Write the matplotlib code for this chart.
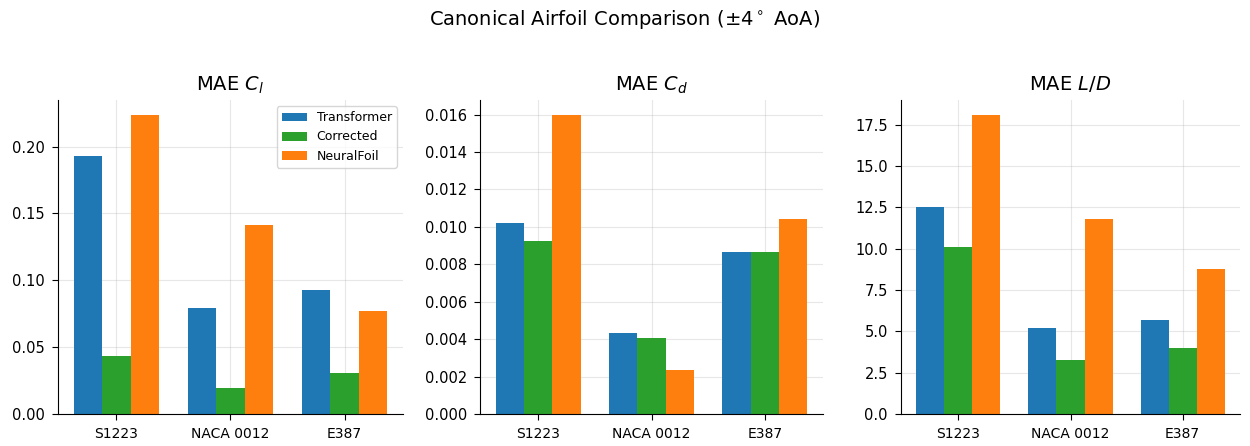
import numpy as np
import matplotlib
matplotlib.use("Agg")
import matplotlib.pyplot as plt

airfoils = ["S1223", "NACA 0012", "E387"]
methods = ["Transformer", "Corrected", "NeuralFoil"]
colors = ["#1f77b4", "#2ca02c", "#ff7f0e"]

mae_cl = {
    "Transformer": [0.1930, 0.0792, 0.0926],
    "Corrected":   [0.0432, 0.0192, 0.0305],
    "NeuralFoil":  [0.2237, 0.1413, 0.0769],
}
mae_cd = {
    "Transformer": [0.01021, 0.00433, 0.00866],
    "Corrected":   [0.00925, 0.00406, 0.00866],
    "NeuralFoil":  [0.01598, 0.00235, 0.01042],
}
mae_ld = {
    "Transformer": [12.52, 5.20, 5.69],
    "Corrected":   [10.10, 3.27, 3.99],
    "NeuralFoil":  [18.08, 11.79, 8.77],
}

panels = [
    (r"MAE $C_l$", mae_cl),
    (r"MAE $C_d$", mae_cd),
    (r"MAE $L/D$", mae_ld),
]

fig = plt.figure(figsize=(12.5, 4.46), dpi=100)
lefts = [58, 480, 901]
rights = [403, 823, 1240]
top_px, bot_px = 100, 414
W, H = 1250, 446

x = np.arange(len(airfoils))
width = 0.25

for i, (title, data) in enumerate(panels):
    ax = fig.add_axes([lefts[i] / W, 1 - bot_px / H,
                       (rights[i] - lefts[i]) / W, (bot_px - top_px) / H])
    for j, m in enumerate(methods):
        ax.bar(x + (j - 1) * width, data[m], width, color=colors[j], label=m,
               zorder=2)
    ax.set_xticks(x)
    ax.set_xticklabels(airfoils, fontsize=10)
    ax.tick_params(axis="y", labelsize=10.5)
    ax.tick_params(axis="both", length=4.5, pad=5)
    ax.set_title(title, fontsize=14, pad=7)
    ax.grid(True, alpha=0.3, zorder=0)
    ax.set_axisbelow(True)
    ax.spines["top"].set_visible(False)
    ax.spines["right"].set_visible(False)
    if i == 0:
        ax.legend(fontsize=9, loc="upper right")

fig.suptitle(r"Canonical Airfoil Comparison ($\pm$4$^\circ$ AoA)", fontsize=14,
             y=0.982)

fig.savefig("out.png", dpi=100)
